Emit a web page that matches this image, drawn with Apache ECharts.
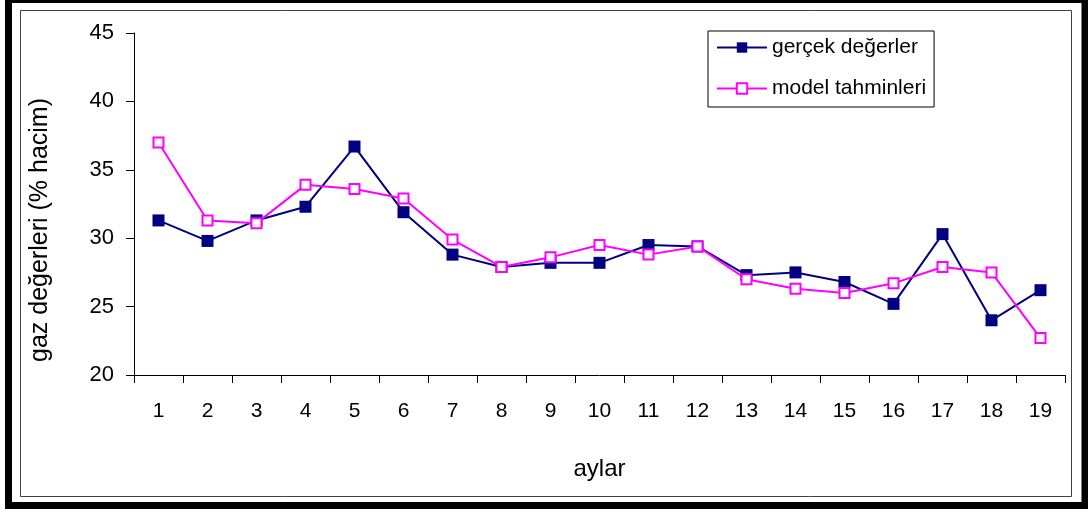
<!DOCTYPE html>
<html>
<head>
<meta charset="utf-8">
<title>gaz değerleri</title>
<script src="https://cdn.jsdelivr.net/npm/echarts@6/dist/echarts.min.js"></script>
<style>
  html, body { margin: 0; padding: 0; background: #fff; }
  #chart { width: 1088px; height: 512px; }
</style>
</head>
<body>
<div id="chart"></div>
<script>
// Months (aylar) on the category axis
const months = ['1','2','3','4','5','6','7','8','9','10','11','12','13','14','15','16','17','18','19'];

// Measured gas values (% volume)
const actualValues = [31.3, 29.8, 31.3, 32.3, 36.7, 31.9, 28.8, 27.9, 28.2, 28.2, 29.5, 29.4, 27.3, 27.5, 26.8, 25.2, 30.3, 24.0, 26.2];

// Model predictions (% volume)
const modelValues = [37.0, 31.3, 31.1, 33.9, 33.6, 32.9, 29.9, 27.9, 28.6, 29.5, 28.8, 29.4, 27.0, 26.3, 26.0, 26.7, 27.9, 27.5, 22.7];

// Value axis range and step
const yMin = 20, yMax = 45, yStep = 5;

const seriesNames = ['gerçek değerler', 'model tahminleri'];

const FONT = '"Liberation Sans", Arial, sans-serif';
const chart = echarts.init(document.getElementById('chart'), null, { renderer: 'canvas' });

chart.setOption({
  animation: false,
  backgroundColor: '#ffffff',
  textStyle: { fontFamily: FONT, color: '#000' },
  grid: { left: 134, right: 23, top: 33, bottom: 137, containLabel: false },
  legend: {
    left: 708,
    top: 31,
    orient: 'vertical',
    data: seriesNames,
    itemWidth: 50,
    itemHeight: 13,
    itemGap: 20,
    itemTextGap: 7,
    padding: [6, 8, 8, 8],
    backgroundColor: '#fff',
    borderColor: '#000',
    borderWidth: 1,
    textStyle: { fontFamily: FONT, fontSize: 21, color: '#000' }
  },
  xAxis: {
    type: 'category',
    data: months,
    boundaryGap: true,
    name: 'aylar',
    nameLocation: 'middle',
    nameGap: 82,
    nameTextStyle: { fontFamily: FONT, fontSize: 24, color: '#000' },
    axisLine: { lineStyle: { color: '#000', width: 1 } },
    axisTick: { show: true, alignWithLabel: false, length: 8, lineStyle: { color: '#000' } },
    axisLabel: { fontFamily: FONT, fontSize: 21, color: '#000', margin: 26, interval: 0 },
    splitLine: { show: false }
  },
  yAxis: {
    type: 'value',
    min: yMin,
    max: yMax,
    interval: yStep,
    name: 'gaz değerleri (% hacim)',
    nameLocation: 'middle',
    nameGap: 81,
    nameTextStyle: { fontFamily: FONT, fontSize: 25, color: '#000', padding: [0, 52, 0, 0] },
    axisLine: { show: true, lineStyle: { color: '#000', width: 1 } },
    axisTick: { show: true, length: 8, lineStyle: { color: '#000' } },
    axisLabel: { fontFamily: FONT, fontSize: 22, color: '#000', margin: 20 },
    splitLine: { show: false }
  },
  series: [
    {
      name: seriesNames[0],
      type: 'line',
      data: actualValues,
      symbol: 'rect',
      symbolSize: 12,
      showAllSymbol: true,
      z: 2,
      lineStyle: { color: '#000080', width: 2 },
      itemStyle: { color: '#000080', borderColor: '#000080', borderWidth: 0 }
    },
    {
      name: seriesNames[1],
      type: 'line',
      data: modelValues,
      symbol: 'rect',
      symbolSize: 10,
      showAllSymbol: true,
      z: 3,
      lineStyle: { color: '#ff00ff', width: 2 },
      itemStyle: { color: '#ffffff', borderColor: '#ff00ff', borderWidth: 2 }
    }
  ],
  graphic: [
    // heavy outer frame
    {
      type: 'rect',
      shape: { x: 8.5, y: -0.5, width: 1076.5, height: 506 },
      style: { fill: 'none', stroke: '#000', lineWidth: 7 },
      silent: true
    },
    // thin chart-area border
    {
      type: 'rect',
      shape: { x: 20.5, y: 10.5, width: 1051, height: 486 },
      style: { fill: 'none', stroke: '#404040', lineWidth: 1 },
      silent: true
    }
  ]
});
</script>
</body>
</html>
